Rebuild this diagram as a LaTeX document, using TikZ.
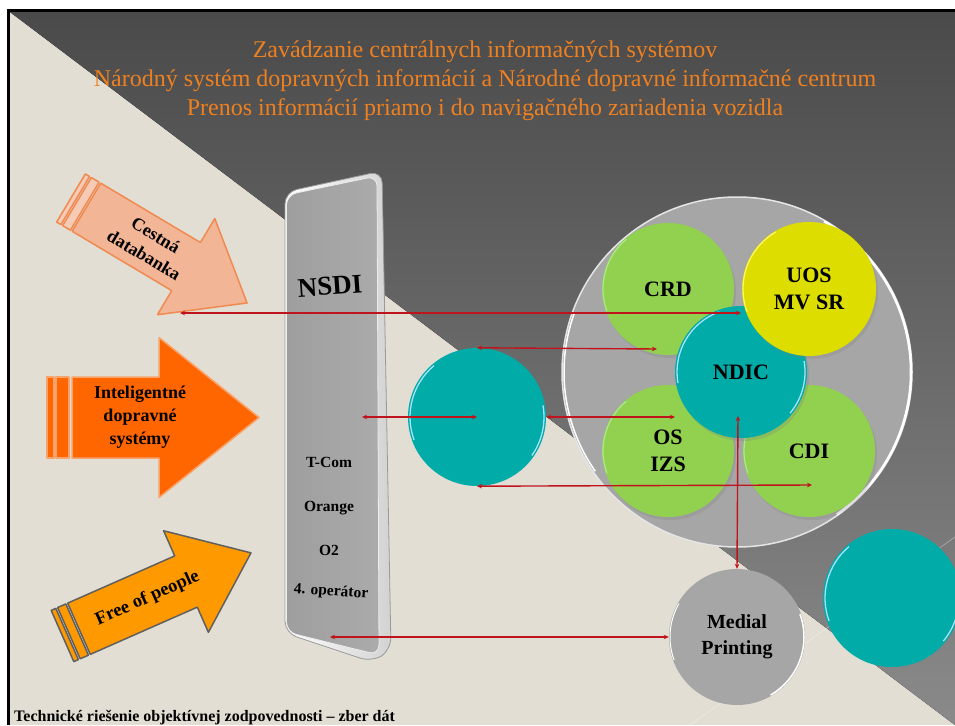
\documentclass[tikz,border=0pt]{standalone}
\usepackage{fontspec}
\setmainfont{Liberation Serif}
\usetikzlibrary{arrows.meta,shadows}
\definecolor{beige}{HTML}{E3DED4}
\definecolor{darkbg}{HTML}{4A4A4A}
\definecolor{darkbgB}{HTML}{8A8A8A}
\definecolor{titleor}{HTML}{EE8020}
\definecolor{redline}{HTML}{C0141C}
\definecolor{greenc}{HTML}{92D050}
\definecolor{yellowc}{HTML}{DDDD00}
\definecolor{tealc}{HTML}{00ABA8}
\definecolor{grayc}{HTML}{A6A6A6}
\definecolor{salmon}{HTML}{F2B595}
\definecolor{salmonb}{HTML}{F08A50}
\definecolor{orangeA}{HTML}{FF6600}
\definecolor{orangeAb}{HTML}{F7A36B}
\definecolor{orangeB}{HTML}{FF9900}
\definecolor{orangeBb}{HTML}{606060}
\begin{document}
\begin{tikzpicture}[x=1pt,y=-1pt,
  arrowtext/.style={font=\bfseries\fontsize{18}{23}\selectfont, align=center, text=black, inner sep=0pt},
  arrA/.style={fill=salmon, draw=salmonb, line width=1.5pt, line join=round},
  arrB/.style={fill=orangeA, draw=orangeAb, line width=1.5pt, line join=round},
  arrC/.style={fill=orangeB, draw=orangeBb, line width=1.5pt, line join=round},
  bubble/.style={circle, minimum size=#1, inner sep=0pt, align=center, font=\bfseries\fontsize{22}{27}\selectfont},
  softshadow/.style={drop shadow={opacity=0.25, shadow xshift=2pt, shadow yshift=-3pt}},
  link/.style={draw=redline, line width=1.4pt, {Stealth[length=5pt,width=4.5pt]}-{Stealth[length=5pt,width=4.5pt]}},
  barlabel/.style={font=\bfseries\fontsize{15.5}{18}\selectfont, inner sep=0pt},
  hlcyan/.style={draw=cyan!35!white, line width=1.3pt},
  hlgreen/.style={draw=green!20!greenc!60!white, line width=1.2pt},
  hlwhite/.style={draw=white, line width=1.5pt},
]
\useasboundingbox (0,0) rectangle (955,725);
\clip (0,0) rectangle (955,725);
% background
\fill[white] (0,0) rectangle (955,725);
\fill[beige] (10,12) rectangle (955,725);
\fill[top color=darkbg, middle color=darkbg!85!darkbgB, bottom color=darkbgB] (10,12) -- (955,12) -- (955,725) -- cycle;
\fill[black] (7,9) rectangle (955,12);
\fill[black] (7,9) rectangle (10,725);
\draw[white, opacity=0.35, line width=0.7pt] (690,725) -- (955,537);

% title
\node[align=center, font=\fontsize{24}{29}\selectfont, text=titleor, inner sep=0pt] (title) at (485,81)
  {Zavádzanie centrálnych informačných systémov\\Národný systém dopravných informácií a Národné dopravné informačné centrum\\Prenos informácií priamo i do navigačného zariadenia vozidla};

% arrow 1: Cestna databanka
\begin{scope}[shift={(71,198)}, rotate=-30.8]
  \filldraw[arrA, fill=salmon!70!white] (0,-28) rectangle (5,28);
  \filldraw[arrA, fill=salmon!70!white] (7,-28) rectangle (16,28);
  \filldraw[arrA] (18,-28) -- (134,-28) -- (134,-56) -- (205,0) -- (134,56) -- (134,28) -- (18,28) -- cycle;
  \node[arrowtext, rotate=-30.8] (cd) at (92,0) {Cestná\\databanka};
\end{scope}
% arrow 2: Inteligentne dopravne systemy
\begin{scope}[shift={(47,417.5)}]
  \filldraw[arrB] (0,-40.5) rectangle (7,40.5);
  \filldraw[arrB] (9,-40.5) rectangle (22,40.5);
  \filldraw[arrB] (25,-40.5) -- (112,-40.5) -- (112,-80) -- (212,0) -- (112,80) -- (112,40.5) -- (25,40.5) -- cycle;
  \node[arrowtext] (ids) at (93,0) {Inteligentné\\dopravné\\systémy};
\end{scope}
% arrow 3: Free of people
\begin{scope}[shift={(62.5,636)}, rotate=23.8]
  \filldraw[arrC] (0,-28) rectangle (5,28);
  \filldraw[arrC] (7,-28) rectangle (16,28);
  \filldraw[arrC] (18,-28) -- (135,-28) -- (135,-55.5) -- (206,0) -- (135,55.5) -- (135,28) -- (18,28) -- cycle;
  \node[arrowtext, font=\bfseries\fontsize{18.5}{22}\selectfont, rotate=23.8] (fop) at (93,0) {Free of people};
\end{scope}

% NSDI bar
\draw[left color=white, right color=gray!35, draw=gray!80, line width=0.8pt, rounded corners=12pt]
  (285,192) -- (382,171) -- (391,650) -- (372,662) -- (285,633) -- cycle;
\draw[left color=gray!76, right color=gray!66, draw=white!85!gray, line width=0.8pt, rounded corners=10pt]
  (286.5,195) -- (377,176) -- (379,655) -- (286.5,632) -- cycle;
\node[font=\bfseries\fontsize{27}{30}\selectfont, inner sep=0pt, rotate=4] (nsdi) at (330,286) {NSDI};
\node[barlabel] (tcom) at (329,462) {T-Com};
\node[barlabel] (orange) at (329,508) {Orange};
\node[barlabel] (o2) at (329,550) {O2};
\node[barlabel, rotate=-4] (op4) at (331,592) {4. operátor};

% big gray circle with inner circles
\node[bubble=350pt, fill=grayc, draw=white!80!gray, line width=1.5pt] (big) at (737,372) {};
\draw[hlwhite, line width=2.5pt] (big.center) ++(-55:174pt) arc[start angle=-55, end angle=60, radius=174pt];
\draw[hlwhite] (big.center) ++(160:173pt) arc[start angle=160, end angle=215, radius=173pt];
\node[bubble=132pt, fill=greenc, softshadow] (crd) at (668,289) {CRD};
\node[bubble=132pt, fill=greenc, softshadow] (os) at (668,451) {OS\\IZS};
\node[bubble=132pt, fill=greenc, softshadow] (cdi) at (809,451) {CDI};
\draw[hlgreen] (crd.center) ++(130:65pt) arc[start angle=130, end angle=200, radius=65pt];
\draw[hlgreen] (os.center) ++(130:65pt) arc[start angle=130, end angle=200, radius=65pt];
\draw[hlgreen] (cdi.center) ++(130:65pt) arc[start angle=130, end angle=200, radius=65pt];
\node[bubble=132pt, fill=tealc, softshadow] (ndic) at (741,372) {NDIC};
\draw[hlcyan] (ndic.center) ++(110:64pt) arc[start angle=110, end angle=190, radius=64pt];
\draw[hlcyan] (ndic.center) ++(-40:64pt) arc[start angle=-40, end angle=10, radius=64pt];
\node[bubble=134pt, fill=yellowc, softshadow] (uos) at (809,289) {UOS\\MV SR};
\draw[draw=yellow!60!white, line width=1.2pt] (uos.center) ++(120:66pt) arc[start angle=120, end angle=200, radius=66pt];

% other circles
\node[bubble=138pt, fill=tealc] (lt) at (477,417) {};
\draw[hlcyan] (lt.center) ++(130:67pt) arc[start angle=130, end angle=200, radius=67pt];
\draw[hlcyan] (lt.center) ++(-35:67pt) arc[start angle=-35, end angle=10, radius=67pt];
\node[bubble=136pt, fill=grayc, font=\bfseries\fontsize{20}{26}\selectfont] (mp) at (737,637) {Medial\\Printing};
\draw[hlwhite] (mp.center) ++(-60:67pt) arc[start angle=-60, end angle=20, radius=67pt];
\draw[hlwhite, line width=1pt] (mp.center) ++(150:67pt) arc[start angle=150, end angle=200, radius=67pt];
\node[bubble=138pt, fill=tealc] (rt) at (892,598) {};
\draw[hlcyan] (rt.center) ++(130:67pt) arc[start angle=130, end angle=200, radius=67pt];
\draw[hlcyan] (rt.center) ++(-40:67pt) arc[start angle=-40, end angle=5, radius=67pt];

% connector end points
\coordinate (p1a) at (180,313);
\coordinate (p1b) at (741,313);
\coordinate (p2b) at (657,349);
\coordinate (p3a) at (362,417);
\coordinate (p4b) at (675,417);
\coordinate (p5b) at (812,485);
\coordinate (p6a) at (738,416);
\coordinate (p7a) at (330,637);

% connectors
\draw[link] (p1a) -- (p1b);
\draw[link] (lt.north) -- (p2b);
\draw[link] (p3a) -- (lt.center);
\draw[link] (lt.east) -- (p4b);
\draw[link] (lt.south) -- (p5b);
\draw[link] (p6a) -- (mp.north);
\draw[link] (p7a) -- (mp.west);

% footer
\node[anchor=base west, font=\bfseries\fontsize{16}{18}\selectfont, inner sep=0pt] (foot) at (14,721)
  {Technické riešenie objektívnej zodpovednosti – zber dát};
\end{tikzpicture}
\end{document}
